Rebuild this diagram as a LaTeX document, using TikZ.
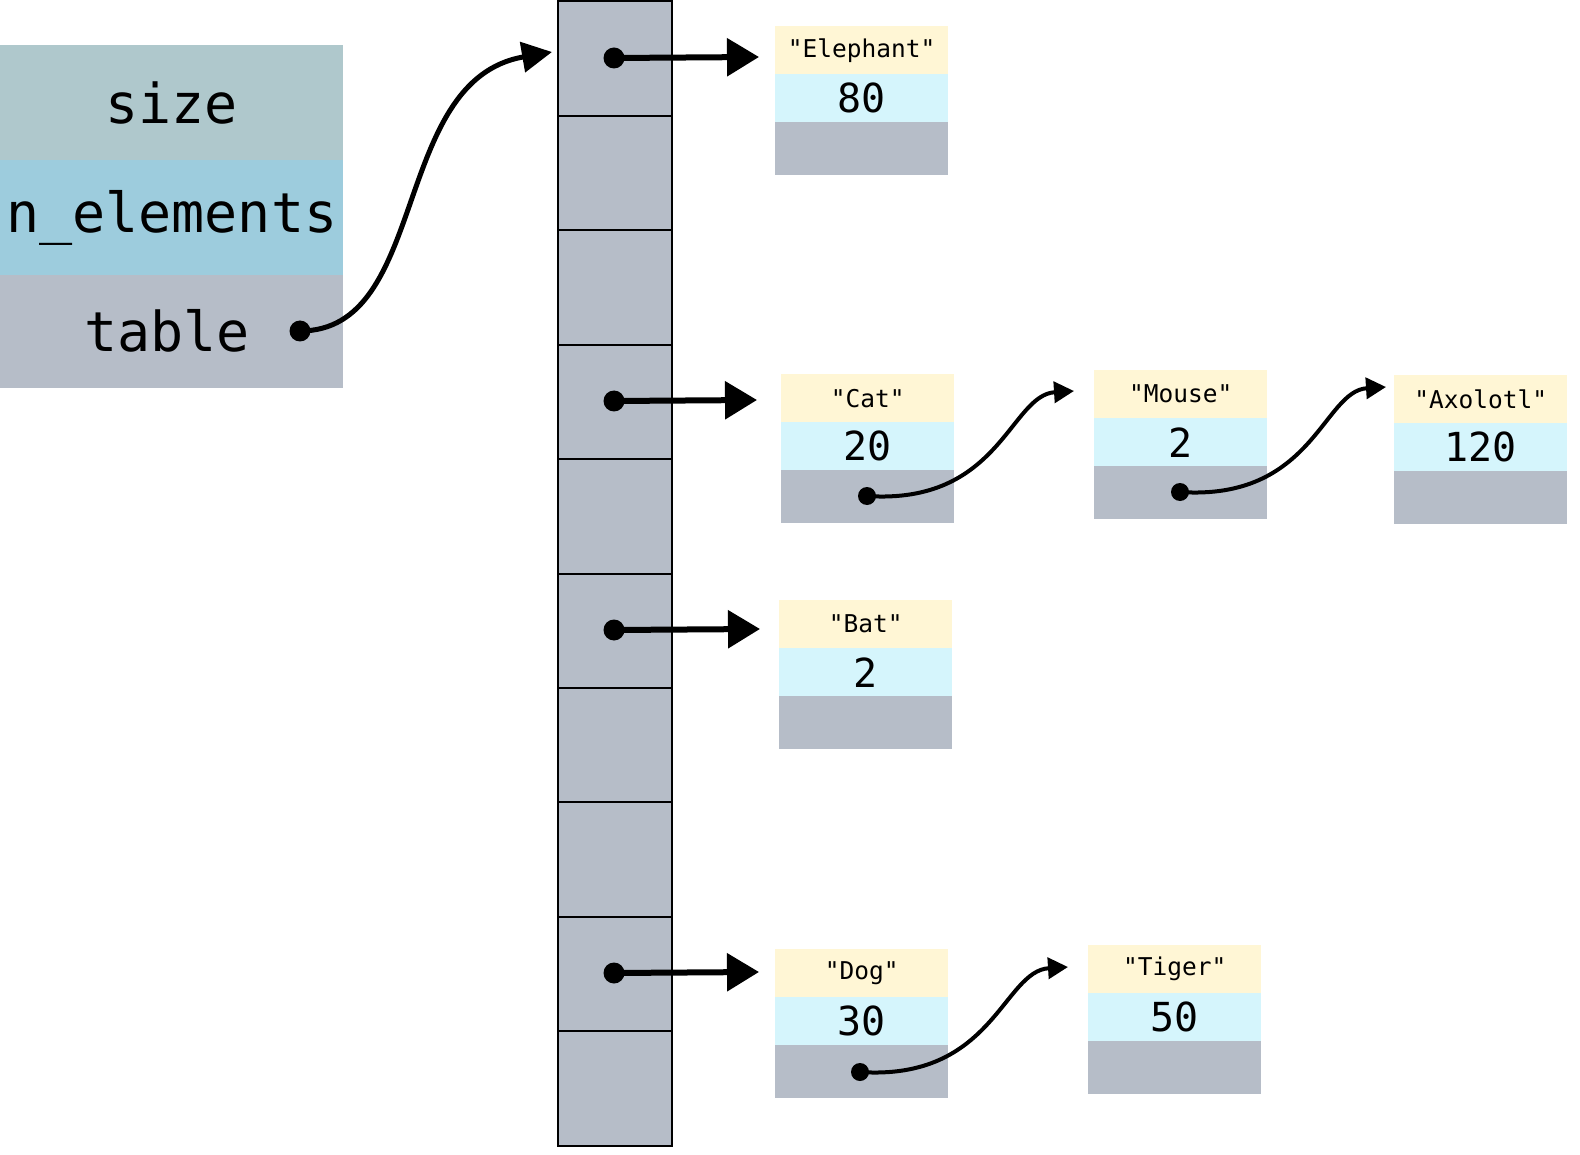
\documentclass[tikz,border=0pt]{standalone}
\usepackage{fontspec}
\setmonofont{DejaVu Sans Mono}
\usetikzlibrary{arrows.meta}
\definecolor{csize}{HTML}{AFC8CC}
\definecolor{cnel}{HTML}{9DCCDD}
\definecolor{cgray}{HTML}{B6BDC8}
\definecolor{cyel}{HTML}{FFF6D5}
\definecolor{ccyan}{HTML}{D5F5FC}
\tikzset{
  cellbox/.style={draw=black, line width=2pt, fill=cgray, minimum width=114pt, minimum height=114.5pt, inner sep=0pt, anchor=north west},
  structrow/.style={minimum width=343pt, minimum height=115pt, inner sep=0pt, anchor=north west, font=\ttfamily\fontsize{55}{60}\selectfont},
  strrow/.style={fill=cyel, minimum width=173pt, minimum height=48pt, inner sep=0pt, anchor=north west, font=\ttfamily\fontsize{24.5}{28}\selectfont},
  numrow/.style={fill=ccyan, minimum width=173pt, minimum height=48pt, inner sep=0pt, anchor=north west, font=\ttfamily\fontsize{40}{44}\selectfont},
  ptrrow/.style={fill=cgray, minimum width=173pt, minimum height=53pt, inner sep=0pt, anchor=north west},
  bigdot/.style={circle, fill=black, minimum size=21pt, inner sep=0pt},
  smalldot/.style={circle, fill=black, minimum size=18pt, inner sep=0pt},
  bigarrow/.style={line width=6pt, -{Triangle[length=32pt,width=37pt]}},
  tablearrow/.style={line width=5pt, -{Triangle[length=30pt,width=30pt]}},
  chainarrow/.style={line width=4pt, -{Triangle[length=20pt,width=21pt]}},
}
\newcommand{\elemnode}[5]{%
  \node[strrow] (#1-s) at (#2,#3) {#4};%
  \node[numrow] (#1-n) at (#2,#3+48) {#5};%
  \node[ptrrow] (#1-p) at (#2,#3+96) {};%
}
\begin{document}
\begin{tikzpicture}[x=1pt,y=-1pt]
\useasboundingbox (0,0) rectangle (1580,1155);
% struct
\node[structrow, fill=csize] (size) at (0,45) {size};
\node[structrow, fill=cnel, minimum height=115pt] (nel) at (0,160) {n\_elements};
\node[structrow, fill=cgray, minimum height=113pt] (tbl) at (0,275) {};
\node[font=\ttfamily\fontsize{55}{60}\selectfont, inner sep=0pt] (tbltext) at (167,331) {table};
% array
\foreach \i in {0,...,9} {
  \node[cellbox] (c\i) at (557,{0.5+\i*114.4}) {};
}
% elements
\elemnode{eleph}{775}{26}{"Elephant"}{80}
\elemnode{cat}{781}{374}{"Cat"}{20}
\elemnode{mouse}{1094}{370}{"Mouse"}{2}
\elemnode{axo}{1394}{375}{"Axolotl"}{120}
\elemnode{bat}{779}{600}{"Bat"}{2}
\elemnode{dog}{775}{949}{"Dog"}{30}
\elemnode{tiger}{1088}{945}{"Tiger"}{50}
% dots
\node[bigdot] (dt) at (300,331) {};
\node[bigdot] (d0) at (614,58) {};
\node[bigdot] (d3) at (614,401) {};
\node[bigdot] (d5) at (614,630) {};
\node[bigdot] (d8) at (614,973) {};
\node[smalldot] (dcat) at (867,496) {};
\node[smalldot] (dmouse) at (1180,492) {};
\node[smalldot] (ddog) at (860,1072) {};
% arrow endpoints
\coordinate (tt) at (552,52);
\coordinate (t0) at (759,57);
\coordinate (t3) at (757,400);
\coordinate (t5) at (760,629);
\coordinate (t8) at (759,972);
\coordinate (tcat) at (1074,391);
\coordinate (tmouse) at (1386,387);
\coordinate (tdog) at (1068,967);
% connectors
\draw[tablearrow] (dt.center) .. controls (430,331) and (390,80) .. (tt);
\draw[bigarrow] (d0.center) -- (t0);
\draw[bigarrow] (d3.center) -- (t3);
\draw[bigarrow] (d5.center) -- (t5);
\draw[bigarrow] (d8.center) -- (t8);
\draw[chainarrow] (dcat.center) .. controls (1000,505) and (1010,395) .. (tcat);
\draw[chainarrow] (dmouse.center) .. controls (1313,501) and (1323,391) .. (tmouse);
\draw[chainarrow] (ddog.center) .. controls (993,1081) and (1003,971) .. (tdog);
\end{tikzpicture}
\end{document}
